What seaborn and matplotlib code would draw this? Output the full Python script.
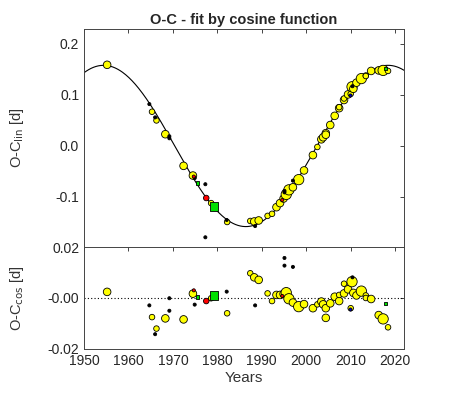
import numpy as np
import pandas as pd
import matplotlib
matplotlib.use('Agg')
import matplotlib.pyplot as plt
import seaborn as sns

# observed minima: year, O-C (linear ephemeris), O-C after cosine fit, source type, marker size class
years = [1955.2, 1964.7, 1965.3, 1966.3, 1966.0, 1968.3, 1969.2, 1969.2, 1972.4, 1974.5,
         1974.7, 1974.9, 1975.5, 1977.3, 1977.3, 1977.5, 1978.6, 1979.2, 1982.1, 1982.2,
         1987.4, 1988.3, 1988.5, 1989.3, 1991.3, 1992.3, 1993.3, 1994.1, 1994.6, 1994.9,
         1995.5, 1996.1, 1997.0, 1995.1, 1995.1, 1997.0, 1998.3, 1999.5, 2001.5, 2002.5,
         2003.4, 2003.8, 2004.4, 2004.4, 2005.4, 2006.4, 2007.4, 2007.4, 2008.5, 2008.5,
         2009.4, 2009.9, 2010.0, 2010.3, 2010.4, 2010.6, 2011.3, 2012.4, 2013.4, 2013.4,
         2014.6, 2016.3, 2017.3, 2017.8, 2018.4]
oc_lin = [0.159, 0.082, 0.067, 0.050, 0.056, 0.023, 0.019, 0.015, -0.039, -0.058,
          -0.060, -0.063, -0.073, -0.075, -0.179, -0.102, -0.112, -0.119, -0.145, -0.149,
          -0.147, -0.148, -0.157, -0.146, -0.137, -0.133, -0.120, -0.112, -0.106, -0.103,
          -0.095, -0.086, -0.081, -0.088, -0.091, -0.068, -0.066, -0.048, -0.018, -0.002,
          0.013, 0.017, 0.025, 0.022, 0.041, 0.059, 0.074, 0.076, 0.090, 0.093,
          0.101, 0.100, 0.102, 0.116, 0.117, 0.112, 0.124, 0.132, 0.138, 0.137,
          0.147, 0.148, 0.148, 0.152, 0.147]
oc_cos = [0.0024, -0.0029, -0.0075, -0.0120, -0.0142, -0.0080, -0.0001, -0.0050, -0.0084, 0.0017,
          0.0030, -0.0026, 0.0003, np.nan, np.nan, -0.0012, -0.0001, 0.0009, 0.0025, -0.0060,
          0.0097, 0.0081, -0.0029, 0.0071, 0.0018, -0.0012, 0.0012, 0.0012, 0.0008, 0.0016,
          0.0021, -0.0003, -0.0018, 0.0157, 0.0127, 0.0122, -0.0034, -0.0024, -0.0040, -0.0025,
          -0.0014, -0.0025, -0.0040, -0.0078, -0.0021, 0.0005, -0.0012, 0.0012, 0.0018, 0.0056,
          0.0034, -0.0044, -0.0040, 0.0064, 0.0081, 0.0020, 0.0010, 0.0027, 0.0010, 0.0000,
          -0.0004, -0.0067, -0.0082, -0.0022, -0.0115]
kind = ['Y', 'K', 'Y', 'Y', 'K', 'Y', 'K', 'K', 'Y', 'Y',
        'R', 'K', 'G', 'K', 'K', 'R', 'Y', 'G', 'K', 'Y',
        'Y', 'Y', 'K', 'Y', 'Y', 'Y', 'Y', 'Y', 'R', 'Y',
        'Y', 'Y', 'Y', 'K', 'K', 'K', 'Y', 'Y', 'Y', 'Y',
        'Y', 'Y', 'Y', 'Y', 'Y', 'Y', 'Y', 'Y', 'Y', 'Y',
        'Y', 'B', 'Y', 'Y', 'K', 'Y', 'Y', 'Y', 'Y', 'Y',
        'Y', 'Y', 'Y', 'G', 'Y']
weight = [3, 1, 2, 2, 1, 3, 1, 1, 3, 3,
          1, 1, 1, 1, 1, 2, 2, 3, 1, 2,
          2, 3, 1, 3, 2, 2, 3, 3, 1, 3,
          4, 4, 3, 1, 1, 1, 4, 3, 3, 2,
          3, 3, 3, 3, 3, 3, 3, 2, 3, 2,
          3, 1, 2, 4, 1, 3, 3, 4, 2, 2,
          3, 3, 4, 1, 2]

# cosine fit parameters
amp, period, t_max = 0.158, 64.0, 2018.4

df = pd.DataFrame({'year': years, 'lin': oc_lin, 'cos': oc_cos, 'kind': kind, 'w': weight})

colors = {'Y': '#ffff00', 'K': '#000000', 'R': '#ff0000', 'G': '#00e000', 'B': '#0000cc'}
markers = {'Y': 'o', 'K': 'o', 'R': 'o', 'G': 's', 'B': 'o'}
sizes = {1: 5, 2: 16, 3: 30, 4: 55}

sns.set_style('white')
plt.rcParams['font.family'] = ['Liberation Sans', 'DejaVu Sans']

fig = plt.figure(figsize=(4.72, 3.93), dpi=100)
ax1 = fig.add_axes([0.178, 0.3715, 0.678, 0.5545])
ax2 = fig.add_axes([0.178, 0.112, 0.678, 0.2595])

t = np.linspace(1950, 2022, 400)
fit = pd.DataFrame({'year': t, 'fit': amp * np.cos(2 * np.pi * (t - t_max) / period)})
sns.lineplot(data=fit, x='year', y='fit', color='black', lw=0.8, ax=ax1)

for k in ['Y', 'K', 'R', 'G', 'B']:
    sub = df[df['kind'] == k]
    sz = {1: 7, 2: 20, 3: 38, 4: 55} if k == 'G' else sizes
    for ax, col in [(ax1, 'lin'), (ax2, 'cos')]:
        sns.scatterplot(data=sub, x='year', y=col, size='w', sizes=sz, legend=False,
                        color=colors[k], marker=markers[k], edgecolor='black',
                        linewidth=0.6, ax=ax, zorder=3)

ax2.axhline(0, color='black', lw=0.8, ls=(0, (1, 2)))

tc = '#262626'
for ax in (ax1, ax2):
    ax.set_xlim(1950, 2022)
    ax.set_xticks(range(1950, 2021, 10))
    ax.tick_params(direction='in', top=True, right=True, length=3, width=0.6,
                   labelsize=10, colors=tc)
    for s in ax.spines.values():
        s.set_color('#444444')
        s.set_linewidth(0.7)

ax1.set_ylim(-0.198, 0.229)
ax1.set_yticks([-0.1, 0.0, 0.1, 0.2])
ax1.set_yticklabels(['-0.1', '0.0', '0.1', '0.2'])
ax1.set_xticklabels([])
ax1.set_xlabel('')
ax1.set_ylabel(r'O-C$_{\rm lin}$ [d]', fontsize=10.5, color='#333333')
ax1.set_title('O-C - fit by cosine function', fontsize=10.5, fontweight='bold', pad=4)

ax2.set_ylim(-0.02, 0.02)
ax2.set_yticks([-0.02, 0.0, 0.02])
ax2.set_yticklabels(['-0.02', '-0.00', '0.02'])
ax2.set_xlabel('Years', fontsize=11, color='#333333', labelpad=2)
ax2.set_ylabel(r'O-C$_{\rm cos}$ [d]', fontsize=10.5, color='#333333')

ax1.yaxis.set_label_coords(-0.18, 0.5)
ax2.yaxis.set_label_coords(-0.18, 0.5)

fig.savefig('out.png', dpi=100, facecolor='white')
